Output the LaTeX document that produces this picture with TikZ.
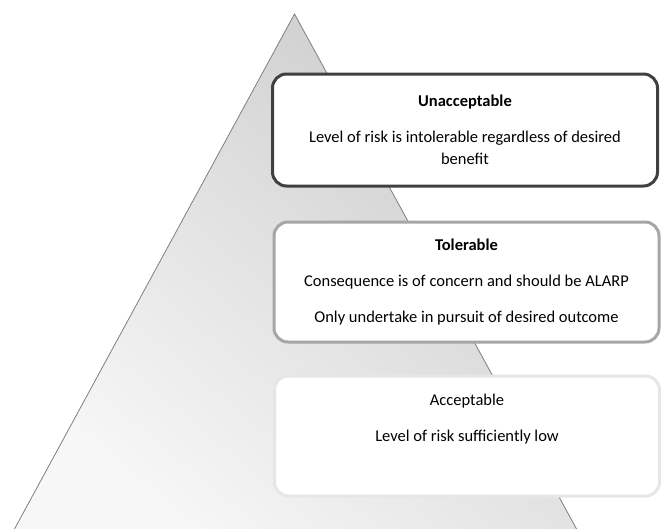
\documentclass[tikz,border=0pt]{standalone}
\usepackage{fontspec}
\setmainfont{Carlito}
\usepackage{xcolor}
\usetikzlibrary{calc}
\definecolor{edgegray}{HTML}{7F7F7F}
\definecolor{darkrim}{HTML}{404040}
\definecolor{midrim}{HTML}{A6A6A6}
\definecolor{lightrim}{HTML}{E6E6E6}

\begin{document}
\begin{tikzpicture}[x=1pt,y=-1pt,
    level/.style={draw,line width=3pt,fill=white,rounded corners=14pt,minimum width=385pt,align=center,font=\fontsize{16.5}{22}\selectfont}]
    \clip(0,0)rectangle(661,528);
    \coordinate(apex)at(294.5,14);
    \coordinate(bl)at(8.5,540);
    \coordinate(br)at(582.6,540);
    \shade[top color=black!20,bottom color=black!3,shading angle=-40](apex)--(br)--(bl)--cycle;
    \draw[edgegray,thick](bl)--(apex)--(br);
    \node[level,draw=darkrim,minimum height=112pt](unacc)at(465,130){\textbf{Unacceptable}\\[14pt]Level of risk is intolerable regardless of desired\\benefit};
    \node[level,draw=midrim,minimum height=120pt](toler)at(466.5,282){\textbf{Tolerable}\\[14pt]Consequence is of concern and should be ALARP\\[14pt]Only undertake in pursuit of desired outcome};
    \node[level,draw=lightrim,minimum height=120pt](accept)at(467,436){Acceptable\\[14pt]Level of risk sufficiently low\\[14pt]~};
  \end{tikzpicture}
\end{document}
